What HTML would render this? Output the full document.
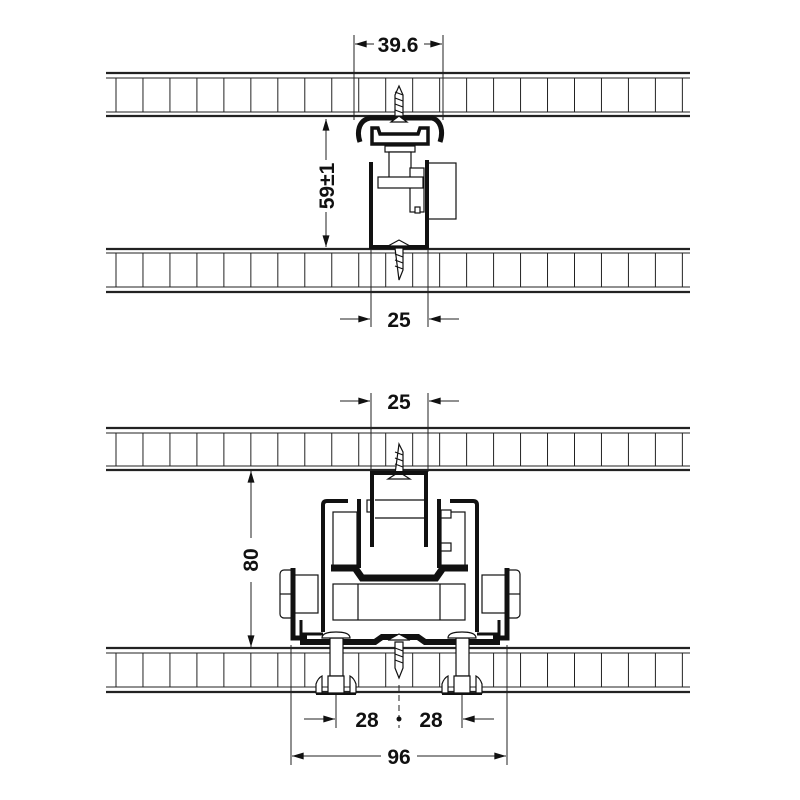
<!DOCTYPE html>
<html><head><meta charset="utf-8"><style>
html,body{margin:0;padding:0;background:#fff;width:800px;height:800px;overflow:hidden}
svg{display:block}
text{font-family:"Liberation Sans",sans-serif;font-weight:bold;font-size:21px;fill:#111}
</style></head><body>
<svg id="s" width="800" height="800" viewBox="0 0 800 800" xmlns="http://www.w3.org/2000/svg">
<defs>
<marker id="a" viewBox="0 0 10 6" refX="10" refY="3" markerWidth="18" markerHeight="7" markerUnits="userSpaceOnUse" orient="auto"><path d="M0,0 L10,3 L0,6 Z" fill="#111"/></marker>
</defs>
<g id="boards" stroke="#222" fill="none"></g>

<g stroke="#222" stroke-width="1" fill="none">
 <line x1="354" y1="35" x2="354" y2="120"/><line x1="443" y1="35" x2="443" y2="120"/>
 <line x1="374" y1="44" x2="355" y2="44" marker-end="url(#a)"/>
 <line x1="424" y1="44" x2="442" y2="44" marker-end="url(#a)"/>
 <line x1="326" y1="160" x2="326" y2="119" marker-end="url(#a)"/>
 <line x1="326" y1="212" x2="326" y2="247" marker-end="url(#a)"/>
 <line x1="371" y1="250" x2="371" y2="327"/><line x1="428" y1="250" x2="428" y2="327"/>
 <line x1="340" y1="319" x2="370" y2="319" marker-end="url(#a)"/>
 <line x1="459" y1="319" x2="429" y2="319" marker-end="url(#a)"/>
 <line x1="371" y1="393" x2="371" y2="472"/><line x1="428" y1="393" x2="428" y2="472"/>
 <line x1="340" y1="401" x2="370" y2="401" marker-end="url(#a)"/>
 <line x1="459" y1="401" x2="429" y2="401" marker-end="url(#a)"/>
 <line x1="251" y1="538" x2="251" y2="471" marker-end="url(#a)"/>
 <line x1="251" y1="582" x2="251" y2="647" marker-end="url(#a)"/>
 <line x1="291" y1="645" x2="291" y2="765"/><line x1="507" y1="645" x2="507" y2="765"/>
 <line x1="336" y1="690" x2="336" y2="728"/><line x1="462" y1="690" x2="462" y2="728"/>
 <line x1="399" y1="685" x2="399" y2="728" stroke-dasharray="6,4"/>
 <line x1="304" y1="719" x2="335" y2="719" marker-end="url(#a)"/>
 <line x1="494" y1="719" x2="463" y2="719" marker-end="url(#a)"/>
 <line x1="381" y1="756" x2="292" y2="756" marker-end="url(#a)"/>
 <line x1="417" y1="756" x2="506" y2="756" marker-end="url(#a)"/>
</g>
<circle cx="399" cy="719" r="2.5" fill="#111"/>
<text x="398" y="52" text-anchor="middle">39.6</text>
<text transform="translate(334,186) rotate(-90)" text-anchor="middle">59±1</text>
<text x="399" y="327" text-anchor="middle">25</text>
<text x="399" y="409" text-anchor="middle">25</text>
<text transform="translate(258,560) rotate(-90)" text-anchor="middle">80</text>
<text x="367" y="727" text-anchor="middle">28</text>
<text x="431" y="727" text-anchor="middle">28</text>
<text x="399" y="764" text-anchor="middle">96</text>

<g stroke="#111" fill="#fff" stroke-width="1.2">
 <path d="M399,86 L403,95 L403,118 L395,118 L395,95 Z"/>
 <path d="M395,92 L403,95 M395,98 L403,101 M395,104 L403,107 M395,110 L403,113" fill="none"/>
 <path d="M360,142 C356,130 360,120 370,118 L432,118 C440,120 444,130 440,142" fill="none" stroke-width="5"/>
 <path d="M372,128 L378,128 L380,134 L418,134 L420,128 L428,128 L428,144 L372,144 Z" stroke-width="3.5"/>
 <path d="M391,122 L399,116 L407,122 Z"/>
 <rect x="385" y="146" width="30" height="6"/>
 <rect x="389" y="152" width="22" height="28"/>
 <rect x="428" y="163" width="28" height="56"/>
 <rect x="410" y="168" width="14" height="44"/>
 <rect x="378" y="177" width="45" height="11"/>
 <rect x="415" y="207" width="5" height="6"/>
 <path d="M371,162 L371,247 L427,247 L427,160" fill="none" stroke-width="4"/>
 <path d="M399,280 L403,270 L403,248 L395,248 Z"/>
 <path d="M388,246 L399,240 L410,246 Z"/>
 <path d="M395,254 L403,257 M395,260 L403,263 M395,266 L403,269" fill="none"/>
</g>

<g stroke="#111" fill="#fff" stroke-width="1.2">
 <path d="M399,444 L403,452 L403,474 L395,474 Z"/>
 <path d="M395,452 L403,455 M395,458 L403,461 M395,464 L403,467" fill="none"/>
 <path d="M388,479 L399,472 L410,479 Z"/>
 <path d="M348,501 L327,501 Q323,501 323,505 L323,632" fill="none" stroke-width="4"/>
 <path d="M450,501 L473,501 Q477,501 477,505 L477,632" fill="none" stroke-width="4"/>
 <rect x="333" y="512" width="24" height="56"/>
 <rect x="441" y="512" width="24" height="56"/>
 <rect x="441" y="510" width="10" height="8"/><rect x="441" y="543" width="10" height="8"/>
 <rect x="367" y="500" width="5" height="12"/>
 <line x1="359" y1="499" x2="359" y2="568" stroke-width="4"/>
 <line x1="439" y1="499" x2="439" y2="568" stroke-width="4"/>
 <path d="M372,547 L372,473 L426,473 L426,547" fill="none" stroke-width="4"/>
 <line x1="375" y1="500" x2="424" y2="500"/><line x1="375" y1="518" x2="424" y2="518"/>
 <path d="M331,568 L355,568 L362,578 L436,578 L443,568 L468,568" fill="none" stroke-width="7"/>
 <rect x="333" y="584" width="132" height="36"/>
 <line x1="358" y1="584" x2="358" y2="620"/><line x1="440" y1="584" x2="440" y2="620"/>
 <rect x="280" y="570" width="14" height="48" rx="4"/>
 <rect x="506" y="570" width="14" height="48" rx="4"/>
 <line x1="280" y1="594" x2="294" y2="594"/><line x1="506" y1="594" x2="520" y2="594"/>
 <rect x="294" y="575" width="24" height="38"/>
 <rect x="482" y="575" width="24" height="38"/>
 <path d="M293,568 L293,638 L307,638" fill="none" stroke-width="5"/>
 <path d="M507,568 L507,638 L493,638" fill="none" stroke-width="5"/>
 <path d="M301,620 L301,634 L323,634" fill="none" stroke-width="3"/>
 <path d="M499,620 L499,634 L477,634" fill="none" stroke-width="3"/>
 <path d="M300,642 L375,642 L382,637 L418,637 L425,642 L500,642" fill="none" stroke-width="6"/>
 <rect x="330" y="638" width="13" height="38"/>
 <rect x="456" y="638" width="13" height="38"/>
 <path d="M322,638 Q322,632 336,632 Q350,632 350,638 Z"/>
 <path d="M448,638 Q448,632 462,632 Q476,632 476,638 Z"/>
 <path d="M316,693 L316,684 Q318,678 322,676 L322,693 Z M356,693 L356,684 Q354,678 350,676 L350,693 Z M328,693 L328,676 L344,676 L344,693 Z"/>
 <path d="M442,693 L442,684 Q444,678 448,676 L448,693 Z M482,693 L482,684 Q480,678 476,676 L476,693 Z M454,693 L454,676 L470,676 L470,693 Z"/>
 <line x1="316" y1="694" x2="356" y2="694" stroke-width="2"/>
 <line x1="442" y1="694" x2="482" y2="694" stroke-width="2"/>
 <path d="M388,640 L399,634 L410,640 Z"/>
 <path d="M399,678 L403,668 L403,642 L395,642 L395,668 Z"/>
 <path d="M395,648 L403,651 M395,654 L403,657 M395,660 L403,663" fill="none"/>
</g>
</svg>
<script>
var g=document.getElementById('boards'),ns='http://www.w3.org/2000/svg';
function L(x1,y1,x2,y2,w){var l=document.createElementNS(ns,'line');l.setAttribute('x1',x1);l.setAttribute('y1',y1);l.setAttribute('x2',x2);l.setAttribute('y2',y2);l.setAttribute('stroke-width',w);g.appendChild(l);}
[[73,78,112,116],[249,253,287,292],[428,433,466,470],[648,653,687,692]].forEach(function(b){
 L(106,b[0],690,b[0],2.2);L(106,b[1],690,b[1],1);L(106,b[2],690,b[2],1);L(106,b[3],690,b[3],2.2);
 for(var x=116;x<690;x+=26.97)L(x,b[1],x,b[2],1);
});
</script>
</body></html>
